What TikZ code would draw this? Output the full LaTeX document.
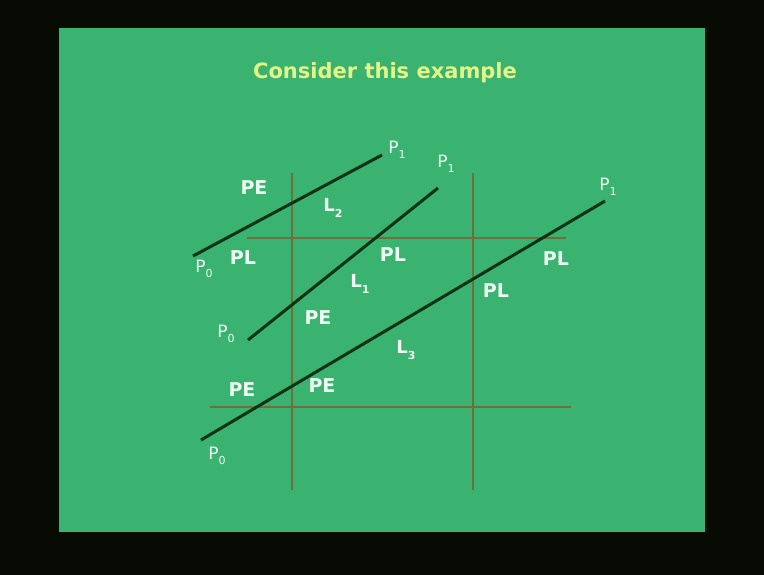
\documentclass[tikz,border=0pt]{standalone}
\usepackage{fontspec}
\setmainfont{DejaVu Sans}
\usetikzlibrary{positioning}

\definecolor{slidegreen}{RGB}{58,178,112}
\definecolor{framedark}{RGB}{8,10,4}
\definecolor{segdark}{RGB}{12,50,22}
\definecolor{windowbrown}{RGB}{112,110,62}
\definecolor{titleyellow}{RGB}{228,246,135}
\definecolor{labelwhite}{RGB}{236,255,242}

% low subscript as on the slide
\newcommand{\lowsub}[1]{\raisebox{-0.6ex}{\fontsize{11}{11}\selectfont #1}}

\begin{document}
\begin{tikzpicture}[
            x=1pt, y=-1pt,
            segment/.style = {draw=segdark, line width=3pt},
            winline/.style = {draw=windowbrown, line width=1.5pt},
            region/.style = {font=\bfseries\fontsize{19}{19}\selectfont, text=labelwhite, inner sep=0pt},
            endlabel/.style = {font=\fontsize{17}{17}\selectfont, text=labelwhite, inner sep=0pt},
            segname/.style = {font=\bfseries\fontsize{18}{18}\selectfont, text=labelwhite, inner sep=0pt}
        ]
        % Fondo
        \fill [framedark] (0,0) rectangle (764,575);
        \fill [slidegreen] (59,28) rectangle (705,532);

        % Titulo
        \node [font=\bfseries\fontsize{21}{21}\selectfont, text=titleyellow] (title) at (385,73) {Consider this example};

        % Ventana de recorte
        \coordinate (xminT) at (292,173);
        \coordinate (xminB) at (292,490);
        \coordinate (xmaxT) at (473,173);
        \coordinate (xmaxB) at (473,490);
        \coordinate (ymaxL) at (247,238);
        \coordinate (ymaxR) at (566,238);
        \coordinate (yminL) at (210,407);
        \coordinate (yminR) at (571,407);
        \draw [winline] (xminT) -- (xminB);
        \draw [winline] (xmaxT) -- (xmaxB);
        \draw [winline] (ymaxL) -- (ymaxR);
        \draw [winline] (yminL) -- (yminR);

        % Segmentos
        \coordinate (p0a) at (193,256);
        \coordinate (p1a) at (382,155);
        \coordinate (p0b) at (248,340);
        \coordinate (p1b) at (438,188);
        \coordinate (p0c) at (201,440);
        \coordinate (p1c) at (605,201);
        \draw [segment] (p0a) -- (p1a);
        \draw [segment] (p0b) -- (p1b);
        \draw [segment] (p0c) -- (p1c);

        % Extremos
        \node [endlabel] (p1aLabel) at (397,150) {P\lowsub{1}};
        \node [endlabel] (p1bLabel) at (446,164) {P\lowsub{1}};
        \node [endlabel] (p1cLabel) at (608,187) {P\lowsub{1}};
        \node [endlabel] (p0aLabel) at (204,269) {P\lowsub{0}};
        \node [endlabel] (p0bLabel) at (226,334) {P\lowsub{0}};
        \node [endlabel] (p0cLabel) at (217,456) {P\lowsub{0}};

        % Nombres de los segmentos
        \node [segname] (nameA) at (333,208) {L\lowsub{2}};
        \node [segname] (nameB) at (360,284) {L\lowsub{1}};
        \node [segname] (nameC) at (406,350) {L\lowsub{3}};

        % Entradas y salidas
        \node [region] (peA) at (254,188) {PE};
        \node [region] (plA) at (243,258) {PL};
        \node [region] (plB) at (393,255) {PL};
        \node [region] (peB) at (318,318) {PE};
        \node [region] (plC) at (556,259) {PL};
        \node [region] (plD) at (496,291) {PL};
        \node [region] (peC) at (242,390) {PE};
        \node [region] (peD) at (322,386) {PE};

    \end{tikzpicture}
\end{document}
